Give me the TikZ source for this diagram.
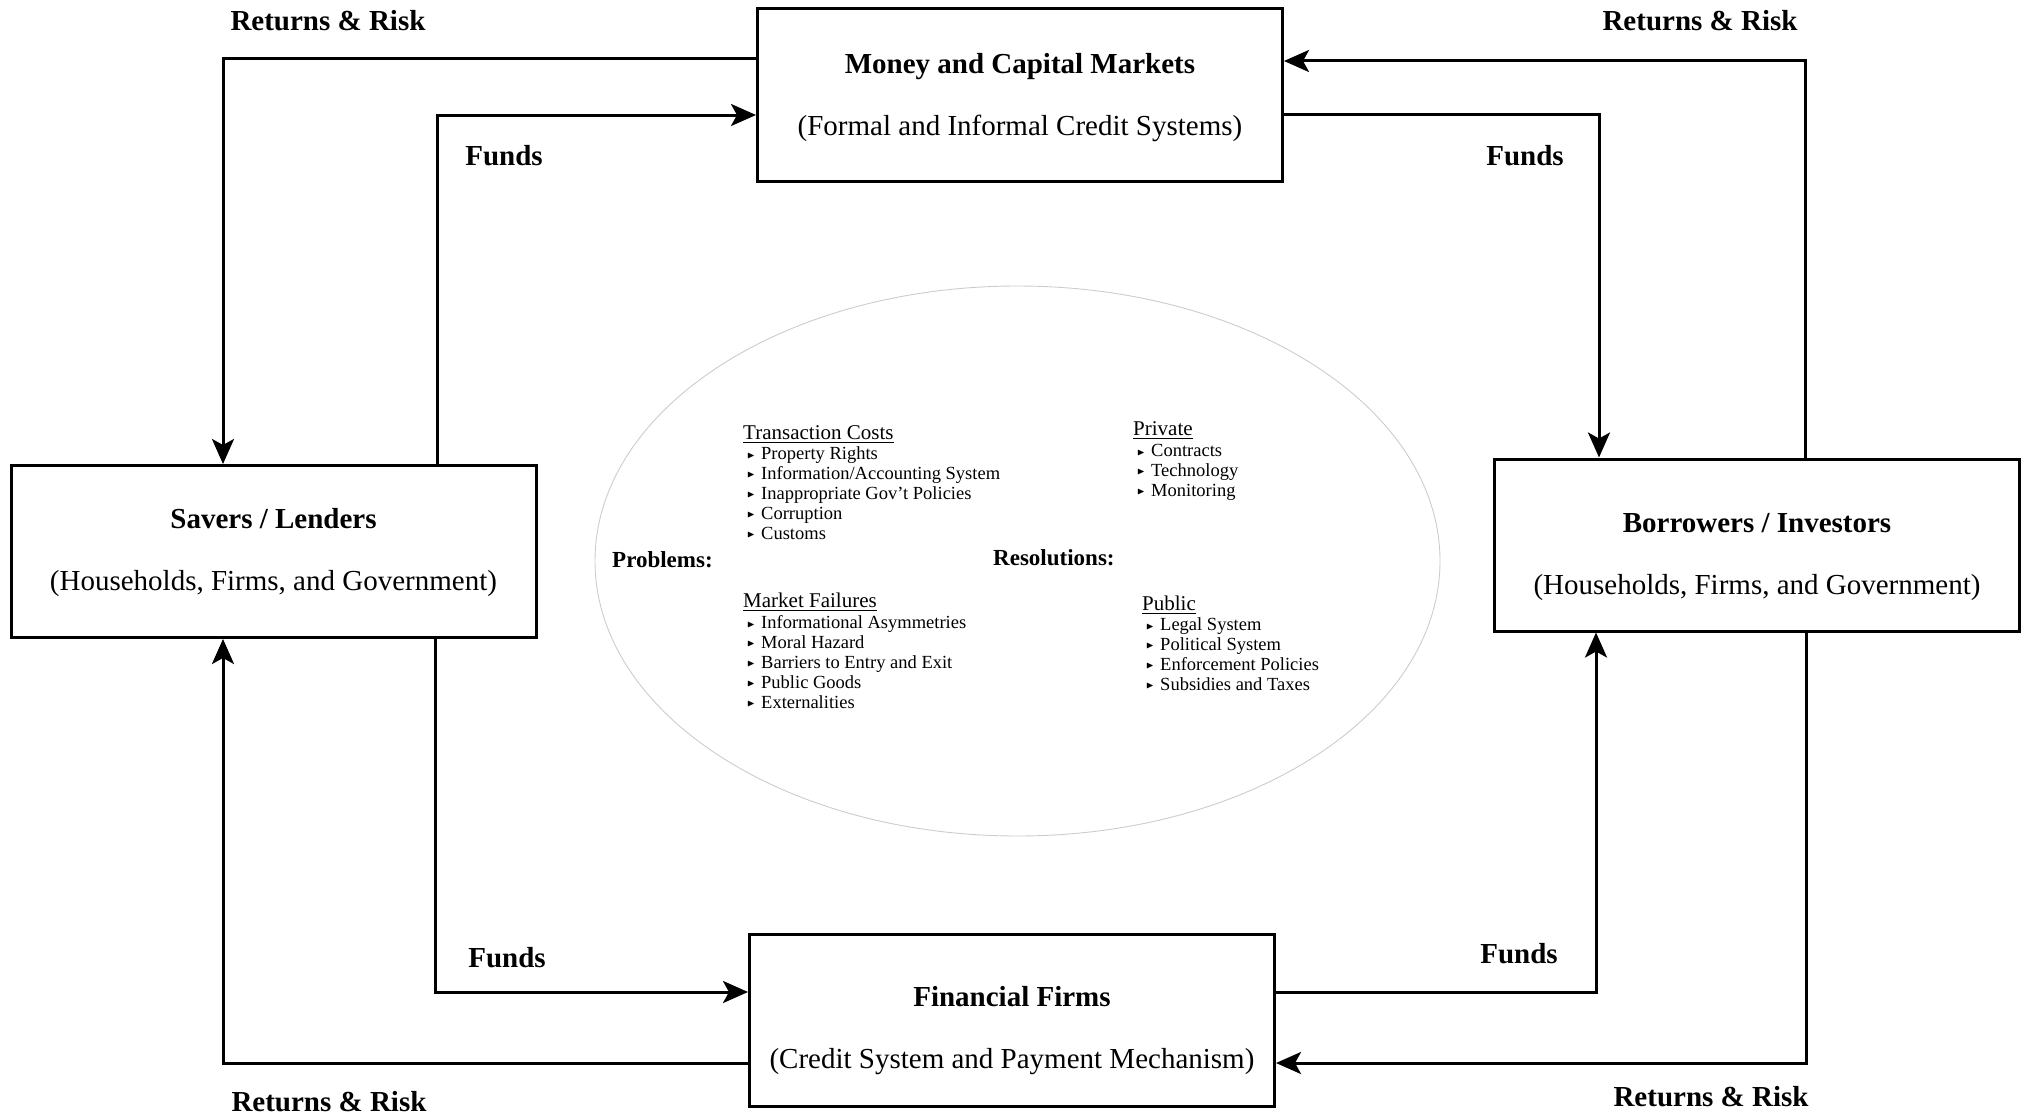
\documentclass[tikz,border=0pt]{standalone}
\usepackage{fontspec}
\setmainfont{Liberation Serif}
\usepackage{amssymb}
\usetikzlibrary{arrows.meta,shapes.geometric}
\newcommand\bul{\makebox[16pt][l]{\hspace{2pt}\raisebox{1.8pt}{\fontsize{10}{10}\selectfont$\blacktriangleright$}}}
\begin{document}
\begin{tikzpicture}[x=1pt,y=-1pt,
 box/.style={draw, line width=3pt, minimum width=525pt, minimum height=172pt, inner sep=0pt},
 boxtext/.style={align=center, font=\fontsize{29}{62}\selectfont, inner sep=0pt},
 conn/.style={line width=3pt, -{Stealth[length=25pt,width=22pt,inset=6pt]}},
 lab/.style={font=\bfseries\fontsize{29}{34}\selectfont, inner sep=0pt},
 hdr/.style={font=\fontsize{21}{21}\selectfont, anchor=base west, inner sep=0pt},
 itm/.style={font=\fontsize{18.5}{20}\selectfont, anchor=base west, inner sep=0pt},
 big/.style={font=\bfseries\fontsize{23}{23}\selectfont, anchor=base west, inner sep=0pt}]
\useasboundingbox (0,0) rectangle (2023,1116);

% boxes
\node[box] (money) at (1020,95) {};
\node[box] (savers) at (273.5,551.5) {};
\node[box] (borrowers) at (1757,545) {};
\node[box] (financial) at (1012,1020) {};
\node[boxtext] (moneyt) at ([yshift=-2.6pt]money.center) {\textbf{Money and Capital Markets}\\(Formal and Informal Credit Systems)};
\node[boxtext] (saverst) at ([yshift=-1.3pt]savers.center) {\textbf{Savers / Lenders}\\(Households, Firms, and Government)};
\node[boxtext] (borrowerst) at ([yshift=-11.6pt]borrowers.center) {\textbf{Borrowers / Investors}\\(Households, Firms, and Government)};
\node[boxtext] (financialt) at ([yshift=-11pt]financial.center) {\textbf{Financial Firms}\\(Credit System and Payment Mechanism)};

% connectors
\draw[conn] ([yshift=36pt]money.west) -| ([xshift=-50.5pt]savers.north);
\draw[conn] ([xshift=163.5pt]savers.north) |- ([yshift=-20pt]money.west);
\draw[conn] ([yshift=-19pt]money.east) -| ([xshift=-158pt]borrowers.north);
\draw[conn] ([xshift=48pt]borrowers.north) |- ([yshift=34pt]money.east);
\draw[conn] ([xshift=161.5pt]savers.south) |- ([yshift=28pt]financial.west);
\draw[conn] ([yshift=-43pt]financial.west) -| ([xshift=-50.5pt]savers.south);
\draw[conn] ([yshift=28pt]financial.east) -| ([xshift=-161pt]borrowers.south);
\draw[conn] ([xshift=49pt]borrowers.south) |- ([yshift=-43pt]financial.east);

% connector labels
\node[lab] (l1) at (328,21) {Returns \& Risk};
\node[lab] (l2) at (504,156) {Funds};
\node[lab] (l3) at (1700,21) {Returns \& Risk};
\node[lab] (l4) at (1525,156) {Funds};
\node[lab] (l5) at (507,958) {Funds};
\node[lab] (l6) at (329,1102) {Returns \& Risk};
\node[lab] (l7) at (1519,954) {Funds};
\node[lab] (l8) at (1711,1097) {Returns \& Risk};

% ellipse
\node[ellipse, draw=black!20, line width=0.9pt, minimum width=845pt, minimum height=550pt, inner sep=0pt] (ell) at (1017.5,561) {};

\node[big] (prob) at (612,567.3) {Problems:};
\node[big] (res) at (993,565.8) {Resolutions:};

\node[hdr] (tc) at (743,439.3) {\underline{Transaction Costs}};
\foreach \t [count=\i] in {Property Rights, Information/Accounting System, Inappropriate Gov’t Policies, Corruption, Customs}
  \node[itm] (tc\i) at (745,{459.8+19.9*(\i-1)}) {\bul\t};

\node[hdr] (mf) at (743,607.3) {\underline{Market Failures}};
\foreach \t [count=\i] in {Informational Asymmetries, Moral Hazard, Barriers to Entry and Exit, Public Goods, Externalities}
  \node[itm] (mf\i) at (745,{628.8+19.9*(\i-1)}) {\bul\t};

\node[hdr] (pv) at (1133,435.3) {\underline{Private}};
\foreach \t [count=\i] in {Contracts, Technology, Monitoring}
  \node[itm] (pv\i) at (1135,{456.8+19.9*(\i-1)}) {\bul\t};

\node[hdr] (pb) at (1142,610.3) {\underline{Public}};
\foreach \t [count=\i] in {Legal System, Political System, Enforcement Policies, Subsidies and Taxes}
  \node[itm] (pb\i) at (1144,{630.8+19.9*(\i-1)}) {\bul\t};
\end{tikzpicture}
\end{document}
